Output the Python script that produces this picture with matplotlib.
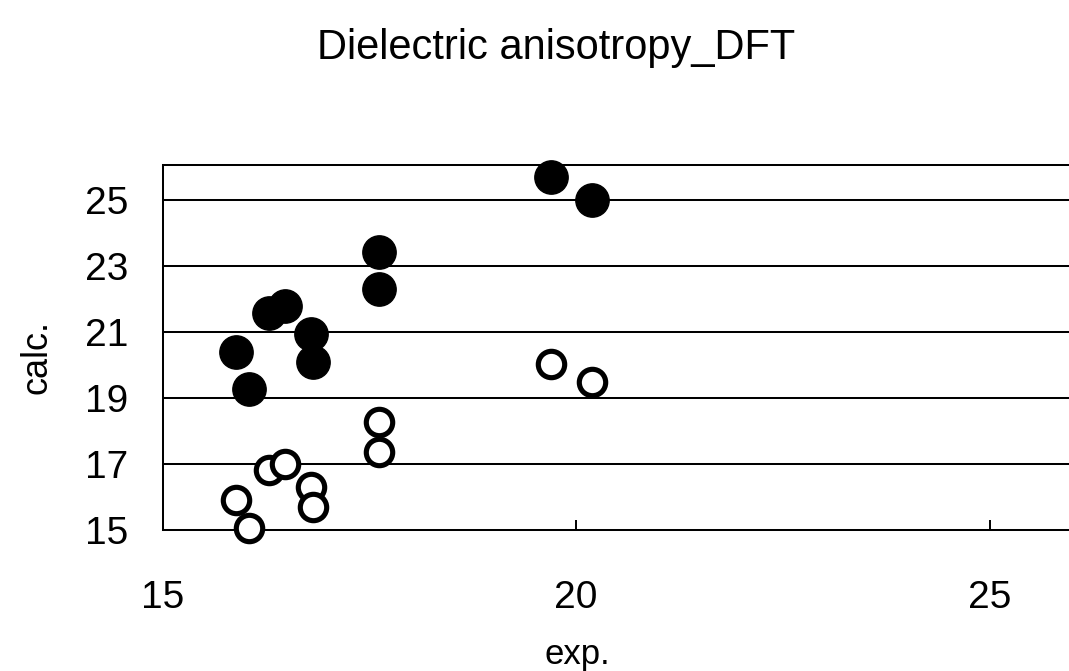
import numpy as np
import matplotlib
matplotlib.use("Agg")
import matplotlib.pyplot as plt

plt.rcParams['font.family'] = ['Liberation Sans', 'DejaVu Sans']

# experimental values (shared by both series)
exp_vals = [15.89, 16.04, 16.28, 16.48, 16.79, 16.82, 17.61, 17.61, 19.70, 20.19]
# filled circles
calc_filled = [20.40, 19.27, 21.58, 21.80, 20.93, 20.08, 23.41, 22.30, 25.71, 25.00]
# open circles
calc_open = [15.91, 15.05, 16.82, 17.00, 16.31, 15.69, 18.26, 17.37, 20.03, 19.48]

xticks = [15, 20, 25]
yticks = [15, 17, 19, 21, 23, 25]

W, H = 1069, 671
fig = plt.figure(figsize=(W / 100, H / 100), dpi=100)
ax = fig.add_axes([162.7 / W, 1 - 530 / H, (W - 162.7) / W, (530 - 165) / H])

for y in yticks[1:]:
    ax.axhline(y, color='black', lw=1.45, zorder=1)

ax.plot(exp_vals, calc_filled, 'o', color='black', ms=24, zorder=3, clip_on=False)
ax.plot(exp_vals, calc_open, 'o', mfc='white', mec='black', ms=19, mew=3.7,
        zorder=3, clip_on=False)

ax.set_xlim(15, 25.96)
ax.set_ylim(15, 26.06)
ax.set_xticks(xticks)
ax.set_yticks(yticks)
ax.spines['right'].set_visible(False)
for s in ['left', 'top', 'bottom']:
    ax.spines[s].set_linewidth(1.45)
ax.tick_params(axis='x', direction='in', length=7, width=1.4, pad=36, labelsize=28)
ax.tick_params(axis='y', direction='in', length=3, width=1.4, pad=25, labelsize=28)

ax.set_xlabel('exp.', fontsize=25)
ax.xaxis.set_label_coords(0.458, -0.295)
ax.set_ylabel('calc.', fontsize=26)
ax.yaxis.set_label_coords(-0.119, 0.474)

fig.text(556 / W, 1 - 48 / H, 'Dielectric anisotropy_DFT', fontsize=30,
         ha='center', va='center')

fig.savefig('out.png', dpi=100)
